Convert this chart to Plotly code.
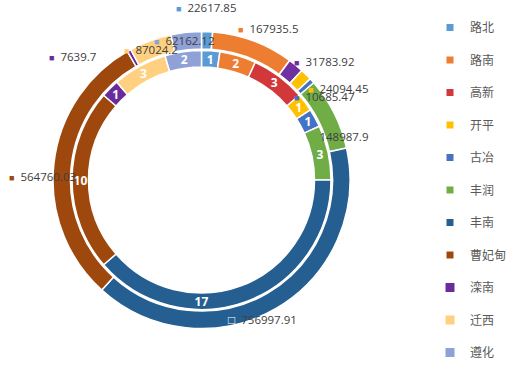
import math
import plotly.graph_objects as go

# ---- data ----
districts = ['路北', '路南', '高新', '开平', '古冶', '丰润', '丰南', '曹妃甸', '滦南', '迁西', '遵化']
area_values = [22617.85, 167935.5, 31783.92, 24094.45, 10685.47, 148987.9,
               756997.91, 564760.03, 7639.7, 87024.2, 62162.12]
project_counts = [1, 2, 3, 1, 1, 3, 17, 10, 1, 3, 2]

# ---- style ----
inner_colors = ['#5B9BD5', '#ED7D31', '#D2373A', '#FFC000', '#4472C4', '#70AD47',
                '#255E91', '#9E480E', '#6A2C9A', '#FFD07F', '#8FA1D6']
outer_colors = list(inner_colors)
outer_colors[2] = '#7030A0'
legend_sizes = [7, 7, 7, 7, 7, 7, 7, 7, 9, 9, 9]

W, H = 524, 372
cx, cy = 201.5, 180.0
R_OUT, R_OUT_HOLE = 148.5, 131.0
R_IN, R_IN_HOLE = 129.5, 113.0
LABEL_R = 165.0
# pixel nudges of Excel "best fit" label positions relative to slice mid-angle anchor
label_nudge = [(-2, -8), (9, 3), (18, 8.5), (20, 26), (0, 27), (-11, 31),
               (-22, -3), (5, 14.5), (-48, 20), (6, 24), (0, 25)]


def dom(r):
    return dict(x=[(cx - r) / W, (cx + r) / W], y=[1 - (cy + r) / H, 1 - (cy - r) / H])


fig = go.Figure()

fig.add_trace(go.Pie(
    labels=districts, values=area_values, sort=False, direction='clockwise', rotation=0,
    domain=dom(R_OUT), hole=R_OUT_HOLE / R_OUT,
    marker=dict(colors=outer_colors, line=dict(color='white', width=1.5)),
    textinfo='none', showlegend=False, hoverinfo='label+value'))

fig.add_trace(go.Pie(
    labels=districts, values=project_counts, sort=False, direction='clockwise', rotation=0,
    domain=dom(R_IN), hole=R_IN_HOLE / R_IN,
    marker=dict(colors=inner_colors, line=dict(color='white', width=1.5)),
    texttemplate='<b>%{value}</b>', textposition='inside', insidetextorientation='horizontal',
    textfont=dict(color='white', size=12, family='Noto Sans'),
    showlegend=False, hoverinfo='label+value'))

# legend entries
for d, c, s in zip(districts, inner_colors, legend_sizes):
    fig.add_trace(go.Scatter(x=[None], y=[None], mode='markers', name=d, legendgroup=d,
                             marker=dict(symbol='square', size=s, color=c), showlegend=True))

# outer ring data labels
total = sum(area_values)
annotations = []
cum = 0.0
for i, v in enumerate(area_values):
    mid = (cum + v / 2) / total * 2 * math.pi
    cum += v
    px = cx + LABEL_R * math.sin(mid) + label_nudge[i][0]
    py = cy - LABEL_R * math.cos(mid) + label_nudge[i][1]
    if districts[i] == '丰南':
        mark = "<span style='color:white;font-size:12px'><b>□</b></span>"
    else:
        mark = f"<span style='color:{outer_colors[i]};font-size:9px'>■</span>"
    annotations.append(dict(
        x=px / W, y=1 - py / H, xref='paper', yref='paper', xanchor='center', yanchor='middle',
        text=f"{mark}&nbsp; {v}", showarrow=False,
        font=dict(size=11.5, color='#404040', family='Open Sans')))

fig.update_layout(
    width=W, height=H, margin=dict(l=0, r=0, t=0, b=0),
    paper_bgcolor='white', plot_bgcolor='white',
    xaxis=dict(visible=False), yaxis=dict(visible=False),
    legend=dict(x=430 / W, xanchor='left', y=1 - 13 / H, yanchor='top',
                tracegroupgap=13.5, font=dict(size=12, color='#595959', family='Noto Sans CJK SC'),
                bgcolor='rgba(0,0,0,0)'),
    annotations=annotations,
    uniformtext=dict(minsize=12, mode='show'),
)

fig.write_html('out.html', config={'displayModeBar': False},
               post_script="document.body.style.margin='0';document.body.style.overflow='hidden';")
